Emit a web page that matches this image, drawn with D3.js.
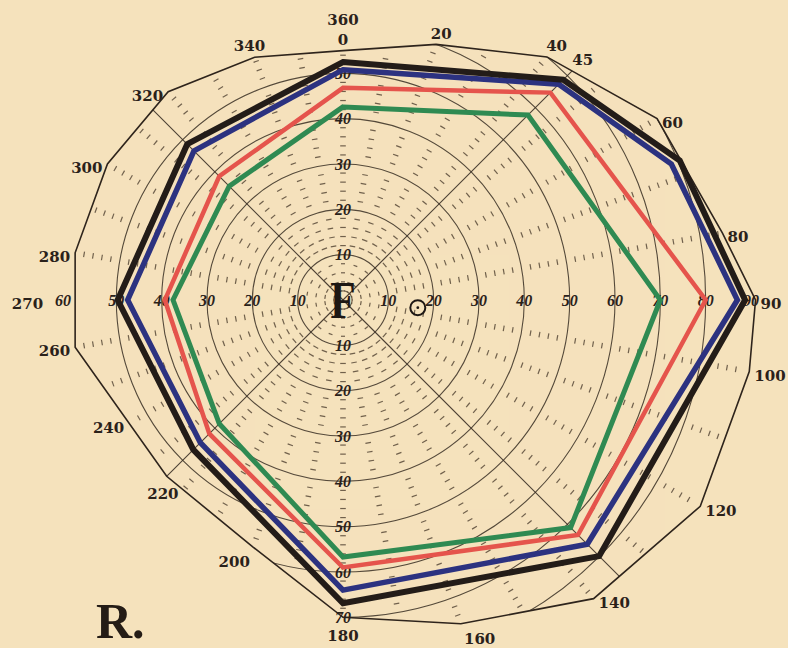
<!DOCTYPE html>
<html>
<head>
<meta charset="utf-8">
<script src="https://cdn.jsdelivr.net/npm/d3@7"></script>
<style>
  html, body { margin: 0; padding: 0; background: #f4e2bb; }
  svg { display: block; }
</style>
</head>
<body>
<svg id="chart" width="788" height="648"></svg>
<script>
// Perimeter chart of the right eye: field limits in degrees along each meridian.
// Meridians are measured clockwise from the top (0 = up, 90 = right).

// Outer limit of the printed chart form (meridian, eccentricity in degrees)
const boundaryMeridians = [0, 20, 40, 60, 80, 90, 100, 120, 140, 160, 180, 200, 225, 260, 280, 300, 320, 340];
const boundaryDegrees   = [55, 60, 70, 80, 85, 91, 91, 91, 86, 76, 70, 58, 55, 60, 60, 60, 60, 57];

// Recorded isopters
const blackMeridians = [0, 45, 67.5, 90, 135, 180, 225, 270, 315];
const blackDegrees   = [52.5, 68.7, 80.4, 88.7, 79.9, 66.9, 46.7, 49.7, 48.6];

const blueMeridians  = [0, 45, 67.5, 90, 135, 180, 225, 270, 315];
const blueDegrees    = [50.8, 67.3, 78.4, 87, 76.2, 64, 44.5, 47.5, 46.5];

const redMeridians   = [0, 45, 90, 135, 180, 225, 270, 315];
const redDegrees     = [46.8, 64.7, 80, 73.3, 59, 41.7, 39.3, 38.6];

const greenMeridians = [0, 45, 90, 135, 180, 225, 270, 315];
const greenDegrees   = [42.6, 57.7, 70, 71, 56.7, 38.6, 37.5, 35.5];

// Scale rings and their labels
const ringDegrees = [10, 20, 30, 40, 50, 60, 70, 80];
const ringLabelsRight = [10, 20, 30, 40, 50, 60, 70, 80, 90];
const ringLabelsLeft  = [10, 20, 30, 40, 50, 60];
const ringLabelsUp    = [10, 20, 30, 40, 50];
const ringLabelsDown  = [10, 20, 30, 40, 50, 60, 70];

// Meridian labels around the form
const meridianLabels = [0, 20, 40, 45, 60, 80, 90, 100, 120, 140, 160, 180, 200, 220, 240, 260, 270, 280, 300, 320, 340];

// Diagonal guide meridians
const diagonals = [45, 135, 225, 315];

// Blind spot (horizontal, vertical offset in degrees)
const blindSpot = { h: 16.5, v: -1.7 };

const svg = d3.select("#chart");
const W = 788, H = 648;
const cx = 343, cy = 300;

const ink = "#3a2f25";
const r = d3.scaleLinear().domain([0, 90]).range([0, 408]);
const rad = d => d * Math.PI / 180;
const polar = (m, v) => [cx + r(v) * Math.sin(rad(m)), cy - r(v) * Math.cos(rad(m))];

const g = svg.append("g");

// background
g.append("rect").attr("width", W).attr("height", H).attr("fill", "#f5e2bc");

const zip = (ms, vs) => ms.map((m, i) => ({ m, v: vs[i] }));
const radial = d3.lineRadial()
  .angle(d => rad(d.m))
  .radius(d => r(d.v))
  .curve(d3.curveLinearClosed);

const boundary = zip(boundaryMeridians, boundaryDegrees);
const plot = g.append("g").attr("transform", `translate(${cx},${cy})`);

// clip path = outer form
svg.append("defs").append("clipPath").attr("id", "formClip")
  .append("path").attr("d", radial(boundary));

// boundary point along any meridian (ray / polygon intersection)
const boundaryPts = boundary.map(d => {
  const [x, y] = polar(d.m, d.v); return [x - cx, y - cy];
});
function boundaryAt(m) {
  const dx = Math.sin(rad(m)), dy = -Math.cos(rad(m));
  let best = null;
  for (let i = 0; i < boundaryPts.length; i++) {
    const a = boundaryPts[i], b = boundaryPts[(i + 1) % boundaryPts.length];
    const ex = b[0] - a[0], ey = b[1] - a[1];
    const den = dx * ey - dy * ex;
    if (Math.abs(den) < 1e-9) continue;
    const t = (a[0] * ey - a[1] * ex) / den;
    const u = (a[0] * dy - a[1] * dx) / den;
    if (t > 0 && u >= -1e-6 && u <= 1 + 1e-6) { if (best === null || t < best) best = t; }
  }
  return best; // pixels
}

const inner = plot.append("g").attr("clip-path", "url(#formClip)");

// rings
inner.selectAll("circle.ring").data(ringDegrees).join("circle")
  .attr("class", "ring").attr("r", d => r(d))
  .attr("fill", "none").attr("stroke", ink).attr("stroke-width", 1.1).attr("opacity", 0.85);

// diagonal meridians
inner.selectAll("line.diag").data(diagonals).join("line")
  .attr("x1", 0).attr("y1", 0)
  .attr("x2", d => r(100) * Math.sin(rad(d)))
  .attr("y2", d => -r(100) * Math.cos(rad(d)))
  .attr("stroke", ink).attr("stroke-width", 1.1).attr("opacity", 0.9);

// tangential degree ticks along meridians, every 2 degrees
const ticks = [];
for (let m = 0; m < 360; m += 10) {
  if (m === 90 || m === 270) continue;
  const lim = boundaryAt(m);
  for (let v = 2; v < 92; v += 2) {
    if (v % 10 === 0) continue;
    if (r(v) > lim - 3) break;
    if (v < 10 && m % 20 !== 0) continue;
    ticks.push({ m, v });
  }
}
inner.selectAll("line.tick").data(ticks).join("line")
  .attr("class", "tick")
  .each(function (d) {
    const L = d.v < 10 ? 2 : 2.8;
    const a = rad(d.m);
    const px = r(d.v) * Math.sin(a), py = -r(d.v) * Math.cos(a);
    const tx = Math.cos(a), ty = Math.sin(a);
    d3.select(this)
      .attr("x1", px - tx * L).attr("y1", py - ty * L)
      .attr("x2", px + tx * L).attr("y2", py + ty * L);
  })
  .attr("stroke", "#4f4030").attr("stroke-width", 1.2).attr("opacity", 0.8);

// outer form
plot.append("path").attr("d", radial(boundary))
  .attr("fill", "none").attr("stroke", "#2e241c").attr("stroke-width", 1.6)
  .attr("stroke-linejoin", "miter");

// ring labels on the horizontal and vertical meridians
const ringFont = "'Liberation Serif', 'DejaVu Serif', serif";
function ringLabel(sel, list, m, opts) {
  sel.selectAll(null).data(list).join("text")
    .attr("x", d => polar(m, d)[0] - cx)
    .attr("y", d => polar(m, d)[1] - cy)
    .attr("dy", "0.35em")
    .attr("text-anchor", d => (opts.anchor ? opts.anchor(d) : "middle"))
    .attr("font-family", ringFont).attr("font-style", "italic").attr("font-weight", "bold")
    .attr("font-size", 16).attr("fill", "#2a211a")
    .text(d => d);
}
const labelsG = plot.append("g");
ringLabel(labelsG, ringLabelsRight, 90, {});
ringLabel(labelsG, ringLabelsLeft, 270, { anchor: d => (d === 60 ? "end" : "middle") });
ringLabel(labelsG, ringLabelsUp, 0, {});
ringLabel(labelsG, ringLabelsDown, 180, {});

// isopters
const series = [
  { ms: greenMeridians, vs: greenDegrees, color: "#2f8a52", w: 5 },
  { ms: redMeridians,   vs: redDegrees,   color: "#e5544c", w: 4.5 },
  { ms: blueMeridians,  vs: blueDegrees,  color: "#2c3280", w: 5.5 },
  { ms: blackMeridians, vs: blackDegrees, color: "#231c18", w: 6 }
];
plot.selectAll("path.iso").data(series).join("path")
  .attr("class", "iso")
  .attr("d", s => radial(zip(s.ms, s.vs)))
  .attr("fill", "none").attr("stroke", s => s.color).attr("stroke-width", s => s.w)
  .attr("stroke-linejoin", "miter").attr("stroke-miterlimit", 8);

// fixation point and blind spot
plot.append("text").attr("x", 0).attr("y", 0).attr("dy", "0.34em")
  .attr("text-anchor", "middle")
  .attr("transform", "scale(0.8,1)")
  .attr("font-family", "'Liberation Serif', serif").attr("font-weight", "bold")
  .attr("font-size", 52).attr("fill", "#1e1814").text("F");

const bsx = r(blindSpot.h), bsy = -r(blindSpot.v);
plot.append("circle").attr("cx", bsx).attr("cy", bsy).attr("r", 7.5)
  .attr("fill", "none").attr("stroke", "#1e1814").attr("stroke-width", 2);
plot.append("circle").attr("cx", bsx).attr("cy", bsy).attr("r", 1.4).attr("fill", "#1e1814");

// meridian labels around the form
const angFont = "'DejaVu Serif', serif";
meridianLabels.forEach(m => {
  const s = Math.sin(rad(m)), c = Math.cos(rad(m));
  const R = boundaryAt(m);
  const vx = R * s, vy = -R * c;
  let x, y, anchor;
  if (c > 0.7 && s >= -0.4) {           // top
    x = vx + s * 15; y = vy - 11; anchor = "middle";
  } else if (Math.abs(s) < 0.5 && c < 0) { // bottom
    x = vx + s * 55; y = vy + 18 - Math.abs(s) * 10; anchor = "middle";
  } else {                               // sides
    const pad = m === 270 ? 32 : 5;
    x = vx + (s > 0 ? pad : -pad); y = vy + 4; anchor = s > 0 ? "start" : "end";
  }
  plot.append("text").attr("x", x).attr("y", y).attr("dy", "0.35em")
    .attr("text-anchor", anchor)
    .attr("font-family", angFont).attr("font-weight", "bold").attr("font-size", 15)
    .attr("fill", "#2a211a").text(m);
  if (m === 0) {
    plot.append("text").attr("x", x).attr("y", y - 20).attr("dy", "0.35em")
      .attr("text-anchor", "middle")
      .attr("font-family", angFont).attr("font-weight", "bold").attr("font-size", 15)
      .attr("fill", "#2a211a").text(360);
  }
});

// eye designation
g.append("text").attr("x", 96).attr("y", 638)
  .attr("font-family", "'Liberation Serif', serif").attr("font-weight", "bold")
  .attr("font-size", 50).attr("fill", "#241c16").text("R.");
</script>
</body>
</html>
